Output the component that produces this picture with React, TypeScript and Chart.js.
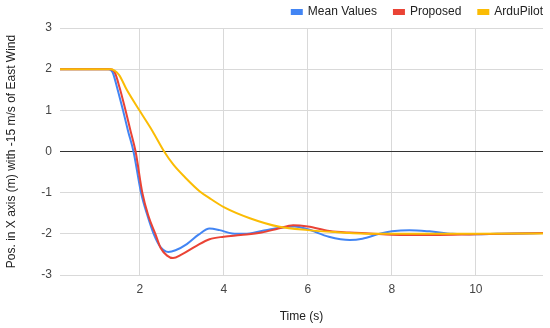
import React, { useEffect, useRef } from "react";
import { Chart, registerables } from "chart.js";

Chart.register(...registerables);

const seriesNames = ["Mean Values", "Proposed", "ArduPilot"];
const seriesColors = ["#4285F4", "#EA4335", "#FBBC04"];

const meanX = [0.1, 1.0, 1.25, 1.35, 1.46, 1.6, 1.72, 1.85, 2.03, 2.18, 2.33, 2.5, 2.68, 2.85, 3.12, 3.4, 3.66, 3.9, 4.2, 4.5, 4.9, 5.3, 5.69, 6.0, 6.5, 7.0, 7.3, 7.71, 8.0, 8.42, 8.9, 9.45, 10.0, 10.5, 11.0, 11.6];
const meanY = [2, 2, 2, 1.93, 1.55, 1.0, 0.5, 0, -1.0, -1.55, -2.0, -2.33, -2.44, -2.4, -2.25, -2.02, -1.87, -1.91, -1.99, -2.0, -1.93, -1.86, -1.82, -1.89, -2.07, -2.15, -2.12, -2.0, -1.94, -1.91, -1.94, -2.0, -2.01, -2.0, -1.99, -1.98];

const propX = [0.1, 1.0, 1.3, 1.4, 1.52, 1.66, 1.78, 1.9, 2.06, 2.2, 2.37, 2.5, 2.65, 2.79, 3.0, 3.35, 3.66, 4.0, 4.4, 4.9, 5.3, 5.65, 6.0, 6.52, 7.0, 7.47, 8.0, 9.0, 10.0, 11.0, 11.6];
const propY = [2, 2, 2, 1.93, 1.55, 1.0, 0.5, 0, -1.0, -1.55, -2.0, -2.35, -2.53, -2.59, -2.5, -2.29, -2.13, -2.07, -2.03, -1.97, -1.87, -1.79, -1.82, -1.93, -1.97, -1.99, -2.02, -2.03, -2.01, -1.99, -1.98];

const arduX = [0.1, 1.0, 1.3, 1.5, 1.69, 1.99, 2.3, 2.58, 2.8, 3.08, 3.43, 3.7, 4.0, 4.62, 5.33, 6.0, 6.7, 7.5, 9.0, 10.0, 11.6];
const arduY = [2, 2, 2.0, 1.87, 1.5, 1.0, 0.5, 0, -0.32, -0.63, -0.97, -1.16, -1.35, -1.62, -1.83, -1.91, -1.96, -2.0, -2.0, -2.0, -1.99];

const xTicks = [2, 4, 6, 8, 10];
const yTicks = [-3, -2, -1, 0, 1, 2, 3];

const xTitle = "Time (s)";
const yTitle = "Pos. in X axis (m) with -15 m/s of East Wind";

function pts(xs: number[], ys: number[]) {
  return xs.map((x, i) => ({ x, y: ys[i] }));
}

const legendShift = {
  id: "legendShift",
  afterLayout(chart: any) {
    const l = chart.legend;
    if (l) {
      l.left += 17;
      l.right += 17;
    }
  },
};

export default function App() {
  const ref = useRef<HTMLCanvasElement | null>(null);
  useEffect(() => {
    document.body.style.margin = "0";
    if (!ref.current) return;
    const font = { family: "'Liberation Sans', Arial, sans-serif", size: 12 };
    const allX = [meanX, propX, arduX];
    const allY = [meanY, propY, arduY];
    const chart = new Chart(ref.current, {
      type: "line",
      data: {
        datasets: seriesNames.map((name, i) => ({
          label: name,
          data: pts(allX[i], allY[i]),
          borderColor: seriesColors[i],
          backgroundColor: seriesColors[i],
          borderWidth: 2,
          pointRadius: 0,
          cubicInterpolationMode: "monotone" as const,
          order: 3 - i,
        })),
      },
      options: {
        animation: false,
        responsive: false,
        layout: { padding: { top: -11, right: 7, left: 0, bottom: 0 } },
        plugins: {
          tooltip: { enabled: false },
          legend: {
            position: "top",
            align: "end",
            labels: {
              boxWidth: 10,
              boxHeight: 4,
              padding: 17,
              color: "#222",
              font,
              sort: (a: any, b: any) => a.datasetIndex - b.datasetIndex,
            },
          },
        },
        scales: {
          x: {
            type: "linear",
            min: 0.1,
            max: 11.6,
            afterBuildTicks: (s: any) => {
              s.ticks = xTicks.map((v) => ({ value: v }));
            },
            afterFit: (s: any) => {
              s.height = 53;
            },
            ticks: { color: "#444", font, padding: 7 },
            grid: { color: "#d9d9d9", drawTicks: false },
            border: { display: false },
            title: { display: true, text: xTitle, color: "#222", font },
          },
          y: {
            type: "linear",
            min: -3,
            max: 3,
            afterBuildTicks: (s: any) => {
              s.ticks = yTicks.map((v) => ({ value: v }));
            },
            afterFit: (s: any) => {
              s.width = 60;
            },
            ticks: { color: "#444", font, padding: 8 },
            grid: {
              color: (c: any) => (c.tick && c.tick.value === 0 ? "#333" : "#d9d9d9"),
              drawTicks: false,
            },
            border: { display: false },
            title: { display: true, text: yTitle, color: "#222", font },
          },
        },
      },
      plugins: [legendShift],
    } as any);
    return () => chart.destroy();
  }, []);
  return (
    <div style={{ width: 550, height: 328 }}>
      <canvas ref={ref} width={550} height={328} />
    </div>
  );
}
